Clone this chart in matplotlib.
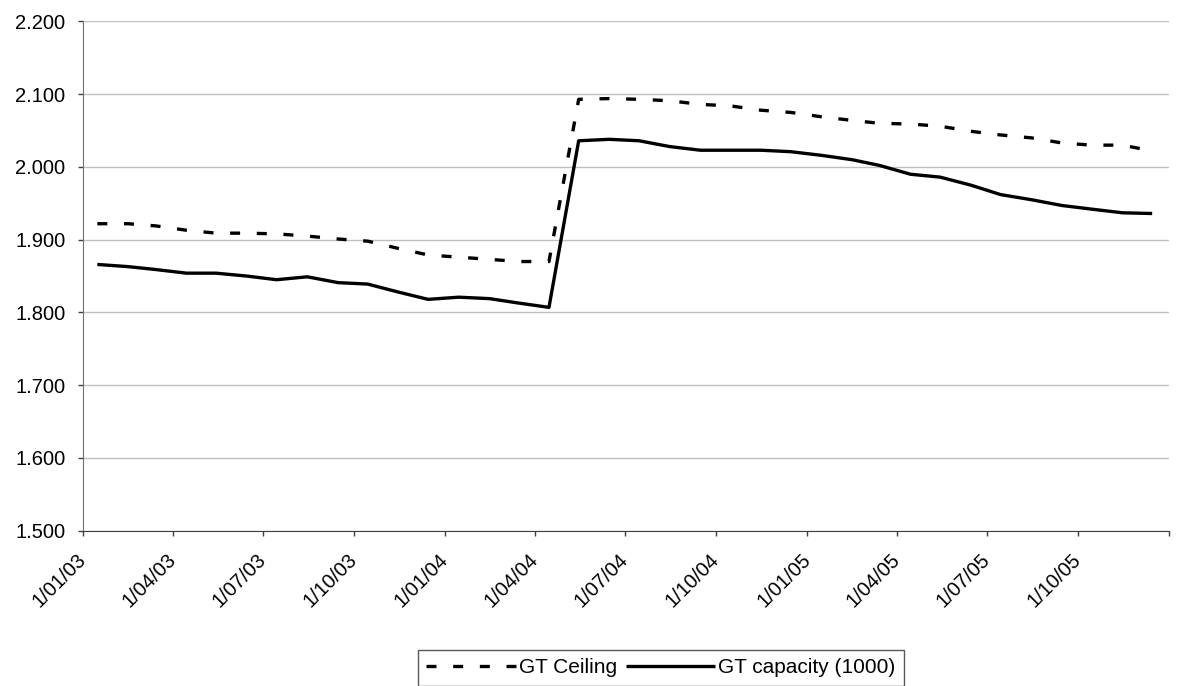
import matplotlib

matplotlib.use("Agg")
import matplotlib.pyplot as plt
import pandas as pd

plt.rcParams["font.family"] = ["Liberation Sans", "DejaVu Sans"]

# monthly points (mid month), Jan 2003 .. Dec 2005
dates = pd.date_range("2003-01-01", periods=36, freq="MS") + pd.Timedelta(days=14)

gt_ceiling = [
    1.922, 1.922, 1.919, 1.913, 1.909, 1.909, 1.908, 1.905, 1.901, 1.898, 1.888, 1.879,
    1.876, 1.873, 1.870, 1.870, 2.093, 2.094, 2.093, 2.091, 2.086, 2.084, 2.078, 2.075,
    2.069, 2.064, 2.060, 2.059, 2.056, 2.049, 2.044, 2.040, 2.033, 2.030, 2.030, 2.022,
]

gt_capacity = [
    1.866, 1.863, 1.859, 1.854, 1.854, 1.850, 1.845, 1.849, 1.841, 1.839, 1.828, 1.818,
    1.821, 1.819, 1.813, 1.807, 2.036, 2.038, 2.036, 2.028, 2.023, 2.023, 2.023, 2.021,
    2.016, 2.010, 2.002, 1.990, 1.986, 1.975, 1.962, 1.955, 1.947, 1.942, 1.937, 1.936,
]

tick_dates = pd.date_range("2003-01-01", "2006-01-01", freq="QS")
tick_labels = [
    "1/01/03", "1/04/03", "1/07/03", "1/10/03",
    "1/01/04", "1/04/04", "1/07/04", "1/10/04",
    "1/01/05", "1/04/05", "1/07/05", "1/10/05", "",
]

y_ticks = [1.5, 1.6, 1.7, 1.8, 1.9, 2.0, 2.1, 2.2]

fig = plt.figure(figsize=(11.77, 6.86), dpi=100)
ax = fig.add_axes([0.0709, 0.2264, 0.9223, 0.7423])

ax.plot(
    dates,
    gt_ceiling,
    color="black",
    linewidth=2.4,
    linestyle=(0, (3, 5.0)),
    dash_capstyle="butt",
    label="GT Ceiling",
)
ax.plot(
    dates,
    gt_capacity,
    color="black",
    linewidth=2.4,
    solid_capstyle="butt",
    label="GT capacity (1000)",
)

ax.set_xlim(tick_dates[0], tick_dates[-1])
ax.set_ylim(1.5, 2.2)

ax.set_yticks(y_ticks)
ax.set_yticklabels(["%.3f" % v for v in y_ticks])
ax.set_xticks(tick_dates)
ax.set_xticklabels(tick_labels, rotation=45, ha="right", va="center", rotation_mode="anchor")

ax.tick_params(axis="both", labelsize=14.5, length=3.6, width=1, color="#404040", direction="out")
ax.tick_params(axis="x", pad=15)
ax.tick_params(axis="y", pad=9.5)

ax.grid(axis="y", color="#c0c0c0", linewidth=1)
ax.set_axisbelow(True)
for side in ["top", "right"]:
    ax.spines[side].set_visible(False)
ax.spines["left"].set_color("#707070")
ax.spines["bottom"].set_color("#404040")

leg = fig.legend(
    loc="upper center",
    bbox_to_anchor=(0.5616, 1 - 650 / 686),
    ncol=2,
    fontsize=15,
    frameon=True,
    fancybox=False,
    handlelength=4.3,
    handletextpad=0.15,
    columnspacing=0.4,
    borderpad=0.4,
    borderaxespad=0,
)
leg.get_frame().set_edgecolor("#303030")
leg.get_frame().set_linewidth(1)

plt.savefig("out.png", dpi=100)
